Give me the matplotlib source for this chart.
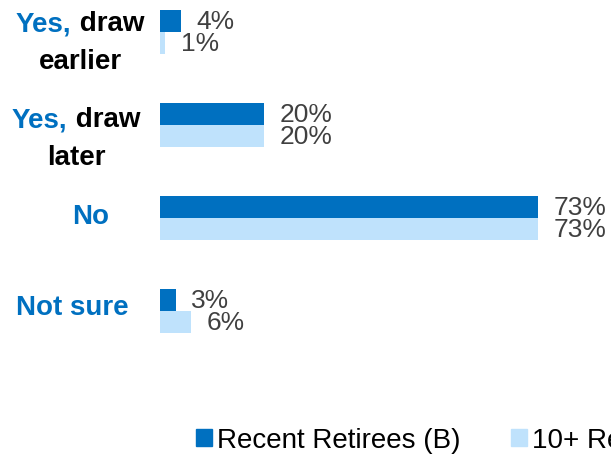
import matplotlib.pyplot as plt
from matplotlib.patches import Patch
from matplotlib.offsetbox import TextArea, HPacker, VPacker, AnnotationBbox

plt.rcParams['font.family'] = ['Liberation Sans', 'DejaVu Sans']

# data
cat_blue = ["Yes,", "Yes,", "No", "Not sure"]
cat_black = [" draw", " draw", "", ""]
cat_second = ["earlier", "later", "", ""]
recent = [4, 20, 73, 3]
older = [1, 20, 73, 6]
series_names = ["Recent Retirees (B)", "10+ Retirees (C)"]

dark = "#0070C0"
light = "#BFE2FC"
blue_txt = "#0070C0"

W, H = 611, 456
fig = plt.figure(figsize=(W / 100, H / 100), dpi=100)

# axes: bars start at x=160px, row centres 93px apart, first at 33px from top
px_per_pct = 5.18
row_gap = 93
first_row = 33
ax = fig.add_axes([160 / W, 0, (W - 160) / W, 1])
ax.set_xlim(0, (W - 160) / px_per_pct)
ax.set_ylim((H - first_row) / row_gap, -first_row / row_gap)
ax.axis('off')

h = 22 / row_gap
ys = list(range(len(recent)))
ax.barh([y - h / 2 for y in ys], recent, height=h, color=dark)
ax.barh([y + h / 2 for y in ys], older, height=h, color=light)

for y, a, b in zip(ys, recent, older):
    ax.text(a + 3, y - h / 2, f"{a}%", va='center', ha='left', fontsize=19, color='#404040')
    ax.text(b + 3, y + h / 2, f"{b}%", va='center', ha='left', fontsize=19, color='#404040')

# category labels (two colours in one line)
label_x = [80, 76, 91, 72]
label_dy = [-10, -13, 2, 4]
for i, y in enumerate(ys):
    props_b = dict(color=blue_txt, fontsize=20, fontweight='bold')
    props_k = dict(color='black', fontsize=20, fontweight='bold')
    parts = [TextArea(cat_blue[i], textprops=props_b)]
    if cat_black[i]:
        parts.append(TextArea(cat_black[i], textprops=props_k))
    lines = [HPacker(children=parts, align='baseline', pad=0, sep=0)]
    if cat_second[i]:
        lines.append(TextArea(cat_second[i], textprops=props_k))
    box = VPacker(children=lines, align='center', pad=0, sep=8)
    ypix = H - (first_row + row_gap * i) + label_dy[i]
    ab = AnnotationBbox(box, (label_x[i], ypix), xycoords='figure pixels',
                        frameon=False, pad=0, box_alignment=(0.5, 0.5))
    fig.add_artist(ab)

handles = [Patch(color=dark), Patch(color=light)]
fig.legend(handles, series_names, loc='center left',
           bbox_to_anchor=(196 / W, 1 - 441 / H), ncol=2, frameon=False,
           fontsize=20, handlelength=0.57, handleheight=0.57,
           handletextpad=0.18, columnspacing=1.83, borderpad=0, borderaxespad=0)

fig.savefig('out.png', dpi=100)
